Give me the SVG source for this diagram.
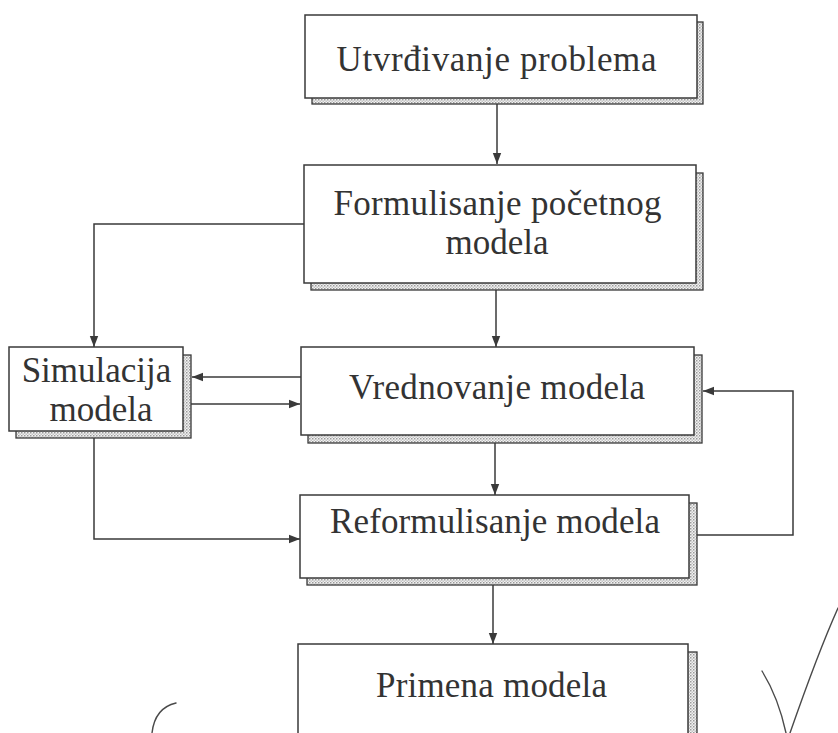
<svg xmlns="http://www.w3.org/2000/svg" width="838" height="733" viewBox="0 0 838 733">
  <defs>
    <!-- stippled fill for the drop-shadow bands -->
    <pattern id="stipple" width="3" height="3" patternUnits="userSpaceOnUse">
      <rect width="3" height="3" fill="#f2f2f2"/>
      <rect x="0" y="0" width="1.5" height="1.5" fill="#9a9a9a"/>
      <rect x="1.5" y="1.5" width="1.5" height="1.5" fill="#c4c4c4"/>
    </pattern>
    <marker id="arrow" markerUnits="userSpaceOnUse" markerWidth="12" markerHeight="10" refX="11" refY="5" orient="auto">
      <path d="M0,0.8 L11,5 L0,9.2 Z" fill="#3a3a3a"/>
    </marker>
    <style>
      .box { fill: #ffffff; stroke: #3a3a3a; stroke-width: 1.5; }
      .shadow { fill: url(#stipple); stroke: #3a3a3a; stroke-width: 1.3; }
      .label { font-family: "Liberation Serif", "Times New Roman", serif; font-size: 35px; fill: #333333; text-anchor: middle; }
      .conn { fill: none; stroke: #3a3a3a; stroke-width: 1.5; }
      .pencil { fill: none; stroke: #4a4a4a; stroke-width: 1.4; stroke-linecap: round; }
    </style>
  </defs>

  <rect width="838" height="733" fill="#ffffff"/>

  <!-- connectors -->
  <g id="connectors">
    <path class="conn" d="M497,104 V164" marker-end="url(#arrow)"/>
    <path class="conn" d="M496,290 V347" marker-end="url(#arrow)"/>
    <path class="conn" d="M304,224 H94 V347" marker-end="url(#arrow)"/>
    <path class="conn" d="M301,377 H192" marker-end="url(#arrow)"/>
    <path class="conn" d="M191,404 H300" marker-end="url(#arrow)"/>
    <path class="conn" d="M495,443 V495" marker-end="url(#arrow)"/>
    <path class="conn" d="M94,438 V539 H300" marker-end="url(#arrow)"/>
    <path class="conn" d="M697,535 H793 V391 H703" marker-end="url(#arrow)"/>
    <path class="conn" d="M493,585 V644" marker-end="url(#arrow)"/>
  </g>

  <!-- nodes -->
  <g id="utvrdivanje">
    <rect class="shadow" x="312" y="22" width="391" height="82"/>
    <rect class="box" x="305" y="15" width="392" height="83"/>
    <text class="label" x="496.5" y="71" textLength="320" lengthAdjust="spacing">Utvrđivanje problema</text>
  </g>

  <g id="formulisanje">
    <rect class="shadow" x="311" y="173" width="392" height="117"/>
    <rect class="box" x="304" y="165" width="392" height="118"/>
    <text class="label" x="497.5" y="215" textLength="328" lengthAdjust="spacing">Formulisanje početnog</text>
    <text class="label" x="497" y="254">modela</text>
  </g>

  <g id="simulacija">
    <rect class="shadow" x="16" y="355" width="175" height="83"/>
    <rect class="box" x="9" y="347" width="174" height="84"/>
    <text class="label" x="96.5" y="382">Simulacija</text>
    <text class="label" x="101" y="421">modela</text>
  </g>

  <g id="vrednovanje">
    <rect class="shadow" x="308" y="355" width="394" height="88"/>
    <rect class="box" x="301" y="347" width="393" height="88"/>
    <text class="label" x="497" y="399" textLength="296" lengthAdjust="spacing">Vrednovanje modela</text>
  </g>

  <g id="reformulisanje">
    <rect class="shadow" x="307" y="503" width="390" height="82"/>
    <rect class="box" x="300" y="495" width="389" height="83"/>
    <text class="label" x="495" y="533" textLength="330" lengthAdjust="spacing">Reformulisanje modela</text>
  </g>

  <g id="primena">
    <rect class="shadow" x="305" y="652" width="392" height="100"/>
    <rect class="box" x="298" y="644" width="390" height="100"/>
    <text class="label" x="491.5" y="697" textLength="231" lengthAdjust="spacing">Primena modela</text>
  </g>

  <!-- pencil marks in the margin -->
  <path class="pencil" d="M762,671 C770,684 780,705 786,733"/>
  <path class="pencil" d="M790,733 C805,690 820,648 838,608"/>
  <path class="pencil" d="M176,703 C163,706 154,715 152,733"/>
</svg>
